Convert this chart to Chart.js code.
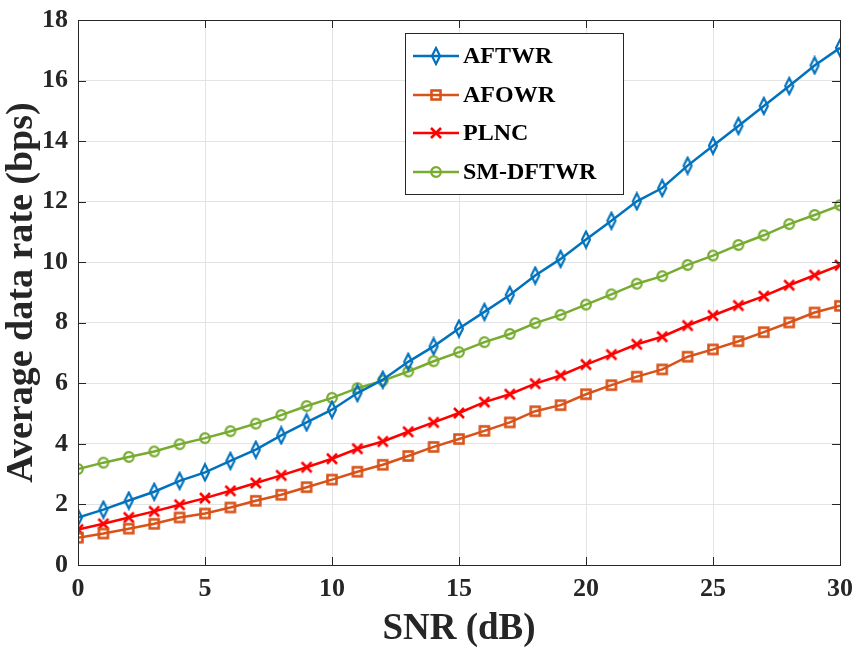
<!DOCTYPE html>
<html>
<head>
<meta charset="utf-8">
<script src="https://cdn.jsdelivr.net/npm/chart.js@4.4.1/dist/chart.umd.min.js"></script>
<style>
  html, body { margin: 0; padding: 0; background: #ffffff; }
  #wrap { width: 856px; height: 650px; }
</style>
</head>
<body>
<div id="wrap"><canvas id="c" width="856" height="650"></canvas></div>
<script>
// ---- data ----
const snr = [0,1,2,3,4,5,6,7,8,9,10,11,12,13,14,15,16,17,18,19,20,21,22,23,24,25,26,27,28,29,30];
const aftwr = [1.57,1.83,2.13,2.42,2.78,3.06,3.44,3.81,4.28,4.71,5.13,5.68,6.12,6.71,7.22,7.81,8.36,8.92,9.56,10.11,10.75,11.37,12.01,12.45,13.19,13.85,14.50,15.16,15.82,16.50,17.08];
const afowr = [0.90,1.04,1.20,1.36,1.57,1.70,1.90,2.12,2.32,2.57,2.82,3.08,3.31,3.60,3.90,4.16,4.43,4.71,5.08,5.28,5.64,5.94,6.22,6.46,6.88,7.12,7.39,7.69,8.01,8.34,8.56];
const plnc = [1.17,1.36,1.57,1.77,1.99,2.21,2.45,2.71,2.96,3.23,3.51,3.84,4.08,4.40,4.71,5.02,5.38,5.64,5.99,6.26,6.62,6.95,7.29,7.54,7.91,8.24,8.57,8.88,9.24,9.57,9.90];
const smdftwr = [3.17,3.38,3.57,3.75,3.99,4.19,4.42,4.67,4.95,5.25,5.52,5.84,6.09,6.39,6.73,7.03,7.36,7.63,7.99,8.26,8.60,8.94,9.29,9.54,9.91,10.22,10.57,10.89,11.26,11.56,11.88];
const seriesLabels = ['AFTWR','AFOWR','PLNC','SM-DFTWR'];
const xTicks = [0,5,10,15,20,25,30];
const yTicks = [0,2,4,6,8,10,12,14,16,18];

const FONT = '"Liberation Serif", "Times New Roman", serif';
const C_BLUE = '#0072BD', C_ORANGE = '#D95319', C_RED = '#FF0000', C_GREEN = '#77AC30';

// ---- marker images ----
function mk(w, h, draw) {
  const cv = document.createElement('canvas');
  cv.width = w; cv.height = h;
  const g = cv.getContext('2d');
  draw(g, w, h);
  return cv;
}
const mDiamond = mk(14, 20, (g, w, h) => {
  g.strokeStyle = C_BLUE; g.lineWidth = 2.2;
  g.beginPath(); g.moveTo(w/2, 2); g.lineTo(w-3, h/2); g.lineTo(w/2, h-2); g.lineTo(3, h/2); g.closePath(); g.stroke();
});
const mSquare = mk(14, 14, (g, w, h) => {
  g.strokeStyle = C_ORANGE; g.lineWidth = 2.6;
  g.strokeRect(2.5, 2.5, w-5, h-5);
});
const mCross = mk(14, 14, (g, w, h) => {
  g.strokeStyle = C_RED; g.lineWidth = 2.6;
  g.beginPath(); g.moveTo(2, 2); g.lineTo(w-2, h-2); g.moveTo(w-2, 2); g.lineTo(2, h-2); g.stroke();
});
const mCircle = mk(14, 14, (g, w, h) => {
  g.strokeStyle = C_GREEN; g.lineWidth = 2.2;
  g.beginPath(); g.arc(w/2, h/2, 4.8, 0, Math.PI*2); g.stroke();
});
const markers = [mDiamond, mSquare, mCross, mCircle];
const colors = [C_BLUE, C_ORANGE, C_RED, C_GREEN];
const values = [aftwr, afowr, plnc, smdftwr];

const datasets = seriesLabels.map((lab, i) => ({
  label: lab,
  data: snr.map((x, k) => ({x: x, y: values[i][k]})),
  borderColor: colors[i],
  backgroundColor: colors[i],
  borderWidth: 2.5,
  pointStyle: markers[i],
  pointRadius: 6,
  pointHoverRadius: 6,
  tension: 0,
  fill: false
}));

// ---- frame + inward ticks + legend box ----
const framePlugin = {
  id: 'frame',
  afterDatasetsDraw(chart) {
    const {ctx, chartArea: a, scales} = chart;
    ctx.save();
    ctx.strokeStyle = '#262626';
    ctx.lineWidth = 1;
    ctx.strokeRect(Math.round(a.left)+0.5, Math.round(a.top)+0.5, Math.round(a.right-a.left), Math.round(a.bottom-a.top));
    const L = 8;
    ctx.beginPath();
    xTicks.forEach(v => {
      const x = Math.round(scales.x.getPixelForValue(v)) + 0.5;
      ctx.moveTo(x, a.bottom); ctx.lineTo(x, a.bottom - L);
      ctx.moveTo(x, a.top); ctx.lineTo(x, a.top + L);
    });
    yTicks.forEach(v => {
      const y = Math.round(scales.y.getPixelForValue(v)) + 0.5;
      ctx.moveTo(a.left, y); ctx.lineTo(a.left + L, y);
      ctx.moveTo(a.right, y); ctx.lineTo(a.right - L, y);
    });
    ctx.stroke();

    // legend
    const bx = 405.5, by = 33.5, bw = 218, bh = 161;
    ctx.fillStyle = '#ffffff';
    ctx.fillRect(bx, by, bw, bh);
    ctx.strokeStyle = '#262626';
    ctx.strokeRect(bx, by, bw, bh);
    const rows = [56, 95, 133, 172];
    chart.data.datasets.forEach((ds, i) => {
      const y = rows[i];
      ctx.strokeStyle = ds.borderColor;
      ctx.lineWidth = 2.5;
      ctx.beginPath(); ctx.moveTo(413, y); ctx.lineTo(459, y); ctx.stroke();
      const m = ds.pointStyle;
      ctx.drawImage(m, 436 - m.width/2, y - m.height/2);
      ctx.fillStyle = '#000000';
      ctx.font = 'bold 24px ' + FONT;
      ctx.textBaseline = 'middle';
      ctx.textAlign = 'left';
      ctx.fillText(ds.label, 463, y + 1);
    });
    ctx.restore();
  }
};

new Chart(document.getElementById('c'), {
  type: 'line',
  data: { datasets },
  plugins: [framePlugin],
  options: {
    responsive: false,
    animation: false,
    devicePixelRatio: 1,
    layout: { padding: { top: 20, right: 16, left: 0, bottom: 0 } },
    plugins: { legend: { display: false }, tooltip: { enabled: false } },
    scales: {
      x: {
        type: 'linear',
        min: 0, max: 30,
        afterBuildTicks: s => { s.ticks = xTicks.map(v => ({value: v})); },
        afterFit: s => { s.height = 85; s.paddingLeft = 0; s.paddingRight = 0; },
        grid: { color: '#e3e3e3', lineWidth: 1, drawTicks: false },
        border: { display: false },
        ticks: { color: '#262626', padding: 9, font: { family: FONT, size: 26, weight: 'bold' }, maxRotation: 0 },
        title: { display: true, text: 'SNR (dB)', color: '#262626', padding: { top: 0, bottom: 2 }, font: { family: FONT, size: 37, weight: 'bold', lineHeight: 1 } }
      },
      y: {
        type: 'linear',
        min: 0, max: 18,
        afterBuildTicks: s => { s.ticks = yTicks.map(v => ({value: v})); },
        afterFit: s => { s.width = 78; s.paddingTop = 0; s.paddingBottom = 0; },
        grid: { color: '#e3e3e3', lineWidth: 1, drawTicks: false },
        border: { display: false },
        ticks: { color: '#262626', padding: 10, font: { family: FONT, size: 26, weight: 'bold' } },
        title: { display: true, text: 'Average data rate (bps)', color: '#262626', padding: { top: 3, bottom: 0 }, font: { family: FONT, size: 38, weight: 'bold', lineHeight: 1 } }
      }
    }
  }
});
</script>
</body>
</html>
